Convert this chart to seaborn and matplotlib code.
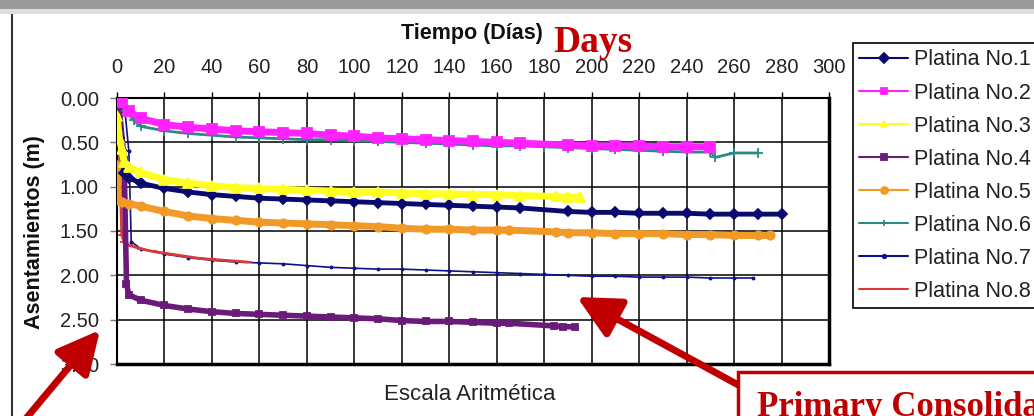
import matplotlib
matplotlib.use('Agg')
import matplotlib.pyplot as plt
from matplotlib.patches import Rectangle
from matplotlib.lines import Line2D
import numpy as np
import pandas as pd
import seaborn as sns

# readings: days / settlement (m)
d1 = [0, 1, 2, 3, 5, 10, 20, 30, 40, 50, 60, 70, 80, 90, 100, 110, 120, 130, 140, 150, 160, 170,
      190, 200, 210, 220, 230, 240, 250, 260, 270, 280]
s1 = [0.35, 0.45, 0.60, 0.85, 0.90, 0.96, 1.02, 1.06, 1.09, 1.11, 1.13, 1.14, 1.15, 1.16, 1.17, 1.18,
      1.19, 1.20, 1.21, 1.22, 1.23, 1.24, 1.28, 1.29, 1.29, 1.30, 1.30, 1.30, 1.31, 1.31, 1.31, 1.31]

d2 = [0, 2, 5, 10, 20, 30, 40, 50, 60, 70, 80, 90, 100, 110, 120, 130, 140, 150, 160, 170,
      190, 200, 210, 220, 230, 240, 250]
s2 = [0.00, 0.05, 0.15, 0.23, 0.30, 0.33, 0.35, 0.37, 0.38, 0.39, 0.40, 0.42, 0.43, 0.45, 0.46, 0.47,
      0.48, 0.49, 0.50, 0.51, 0.53, 0.54, 0.54, 0.54, 0.55, 0.55, 0.55]

d3 = [0, 1, 2, 3, 5, 10, 20, 30, 40, 50, 60, 70, 80, 90, 100, 110, 120, 130, 140, 150, 160, 170,
      185, 190, 195]
s3 = [0.20, 0.45, 0.58, 0.72, 0.78, 0.84, 0.92, 0.96, 0.99, 1.01, 1.02, 1.03, 1.04, 1.05, 1.06, 1.06,
      1.07, 1.08, 1.08, 1.09, 1.09, 1.10, 1.11, 1.12, 1.12]

d4 = [0, 1, 3, 4, 5, 10, 20, 30, 40, 50, 60, 70, 80, 90, 100, 110, 120, 130, 140, 150, 160, 165,
      184, 188, 193]
s4 = [0.08, 0.12, 0.70, 2.10, 2.22, 2.28, 2.34, 2.38, 2.41, 2.43, 2.44, 2.45, 2.46, 2.47, 2.48, 2.49,
      2.51, 2.52, 2.52, 2.53, 2.54, 2.54, 2.57, 2.58, 2.58]

d5 = [0, 0.5, 2, 5, 10, 20, 30, 40, 50, 60, 70, 80, 90, 100, 110, 120, 130, 140, 150, 160, 165,
      185, 190, 200, 210, 220, 230, 240, 250, 260, 270, 275]
s5 = [0.76, 1.15, 1.17, 1.19, 1.22, 1.28, 1.33, 1.36, 1.38, 1.40, 1.41, 1.42, 1.43, 1.44, 1.45, 1.47,
      1.48, 1.48, 1.49, 1.49, 1.49, 1.51, 1.52, 1.52, 1.53, 1.53, 1.53, 1.54, 1.54, 1.55, 1.55, 1.55]

d6 = [2, 4, 7, 10, 20, 30, 40, 50, 60, 70, 80, 90, 100, 110, 120, 130, 140, 150, 160, 170, 180,
      190, 200, 210, 220, 230, 240, 250, 252, 260, 270]
s6 = [0.00, 0.15, 0.25, 0.32, 0.37, 0.40, 0.42, 0.44, 0.45, 0.46, 0.47, 0.47, 0.48, 0.49, 0.50, 0.51,
      0.52, 0.53, 0.54, 0.54, 0.55, 0.56, 0.57, 0.58, 0.59, 0.60, 0.61, 0.61, 0.67, 0.62, 0.62]

d7 = [3, 5, 6, 10, 20, 30, 40, 50, 60, 70, 80, 90, 100, 110, 120, 130, 140, 150, 160, 170, 180,
      190, 200, 210, 220, 230, 240, 250, 260, 268]
s7 = [0.05, 0.60, 1.62, 1.70, 1.76, 1.80, 1.83, 1.85, 1.86, 1.87, 1.89, 1.91, 1.92, 1.93, 1.93, 1.94,
      1.95, 1.96, 1.97, 1.98, 1.99, 2.00, 2.01, 2.01, 2.02, 2.02, 2.02, 2.03, 2.03, 2.03]

d8 = [0, 1, 2, 3, 5, 10, 15, 20, 25, 30, 35, 40, 45, 50, 55]
s8 = [0.05, 0.60, 1.55, 1.62, 1.66, 1.70, 1.73, 1.75, 1.77, 1.79, 1.81, 1.82, 1.83, 1.84, 1.85]

names = ['Platina No.1', 'Platina No.2', 'Platina No.3', 'Platina No.4',
         'Platina No.5', 'Platina No.6', 'Platina No.7', 'Platina No.8']
days = [d1, d2, d3, d4, d5, d6, d7, d8]
settl = [s1, s2, s3, s4, s5, s6, s7, s8]

xticks = [0, 20, 40, 60, 80, 100, 120, 140, 160, 180, 200, 220, 240, 260, 280, 300]
yticks = [0.0, 0.5, 1.0, 1.5, 2.0, 2.5, 3.0]

colors = ['#0a0a6e', '#ff22ff', '#ffff22', '#6a1a78', '#f29a28', '#2a8a86', '#10108a', '#d83a3a']
markers = ['D', 's', '^', 's', 'o', '+', '.', '_']
msizes = [5, 7, 7, 4, 6, 7, 3, 6]
lws = [3.5, 5, 5, 4, 5, 2, 1.2, 2]

sns.set_style('white')
plt.rcParams['font.family'] = ['Liberation Sans', 'DejaVu Sans']

W, H = 1034, 416
fig = plt.figure(figsize=(W / 100, H / 100), dpi=100)
ax = fig.add_axes([117 / W, 1 - 364 / H, (829 - 117) / W, (364 - 98) / H])

order = [6, 7, 3, 4, 0, 2, 5, 1]
for i in order:
    df = pd.DataFrame({'dia': days[i], 'asent': settl[i]})
    sns.lineplot(data=df, x='dia', y='asent', ax=ax, color=colors[i], lw=lws[i],
                 marker=markers[i], markersize=msizes[i], markeredgecolor=colors[i],
                 markeredgewidth=1.3, sort=False, estimator=None, label=names[i], zorder=3)

ax.set_xlim(0, 300)
ax.set_ylim(3.0, 0.0)
ax.set_xticks(xticks)
ax.set_yticks(yticks)
ax.set_yticklabels(['%.2f' % v for v in yticks])
ax.set_xlabel('')
ax.set_ylabel('')
ax.grid(True, color='black', lw=1.1)
ax.set_axisbelow(True)
ax.xaxis.tick_top()
ax.tick_params(axis='x', top=True, bottom=False, labeltop=True, labelbottom=False,
               length=4, width=1, color='black', pad=11, labelsize=14.5, labelcolor='#222222')
ax.tick_params(axis='y', left=True, length=5, width=1, color='#777777', pad=8,
               labelsize=14.5, labelcolor='#222222')
for k, sp in ax.spines.items():
    sp.set_color('black')
    sp.set_linewidth(2.5 if k in ('right', 'bottom') else 1.5)

# legend
h, l = ax.get_legend_handles_labels()
idx = [l.index(n) for n in names]
leg = ax.legend([h[j] for j in idx], names, loc='upper left', bbox_to_anchor=(853 / W, 1 - 43 / H),
                bbox_transform=fig.transFigure, fontsize=15.5, frameon=True, fancybox=False,
                framealpha=1, edgecolor='black', borderaxespad=0, handlelength=2.25,
                handletextpad=0.3, labelspacing=0.56, borderpad=0.3, numpoints=1)
leg.get_frame().set_linewidth(1.2)
for ln in leg.get_lines():
    ln.set_linewidth(1.5)
    ln.set_markersize(5)
for t in leg.get_texts():
    t.set_color('#222222')

# texts
fig.text(472 / W, 1 - 33 / H, 'Tiempo (Días)', ha='center', va='center', fontsize=15.5,
         fontweight='bold', color='#111111')
fig.text(553 / W, 1 - 52 / H, 'Days', ha='left', va='baseline', fontsize=27,
         fontweight='bold', color='#c00000', family=['Liberation Serif', 'DejaVu Serif'])
fig.text(470 / W, 1 - 394 / H, 'Escala Aritmética', ha='center', va='center', fontsize=16,
         color='#222222')
fig.text(35 / W, 1 - 232 / H, 'Asentamientos (m)', ha='center', va='center', rotation=90,
         fontsize=15.5, fontweight='bold', color='#111111')

# frame of the screenshot
fig.add_artist(Rectangle((0, 1 - 9 / H), 1, 9 / H, transform=fig.transFigure,
                         color='#9a9a9a', lw=0, zorder=5))
fig.add_artist(Rectangle((0, 1 - 14 / H), 1, 5 / H, transform=fig.transFigure,
                         color='#dddddd', lw=0, zorder=5))
fig.add_artist(Line2D([12 / W, 12 / W], [0, 1 - 14 / H], transform=fig.transFigure,
                      color='#333333', lw=1.5))

# annotation arrows and box
red = '#c00000'
ax.annotate('', xy=(100, H - 330), xycoords='figure pixels', xytext=(18, -12),
            textcoords='figure pixels', annotation_clip=False,
            arrowprops=dict(arrowstyle='-|>,head_length=1.0,head_width=0.5', color=red,
                            lw=5, mutation_scale=26, shrinkA=0, shrinkB=0))
ax.annotate('', xy=(577, H - 297), xycoords='figure pixels', xytext=(742, H - 387),
            textcoords='figure pixels', annotation_clip=False,
            arrowprops=dict(arrowstyle='-|>,head_length=1.0,head_width=0.5', color=red,
                            lw=5, mutation_scale=26, shrinkA=0, shrinkB=0))
fig.add_artist(Rectangle((738 / W, -0.05), (W - 738 + 20) / W, 0.05 + 1 - 372 / H,
                         transform=fig.transFigure, facecolor='white', edgecolor=red,
                         lw=2.5, zorder=6))
txt = fig.text(757 / W, 1 - 416 / H, 'Primary Consolidation', ha='left', va='baseline',
               fontsize=25, fontweight='bold', color=red,
               family=['Liberation Serif', 'DejaVu Serif'])
txt.set_zorder(7)

fig.savefig('out.png', dpi=100)
plt.close('all')
